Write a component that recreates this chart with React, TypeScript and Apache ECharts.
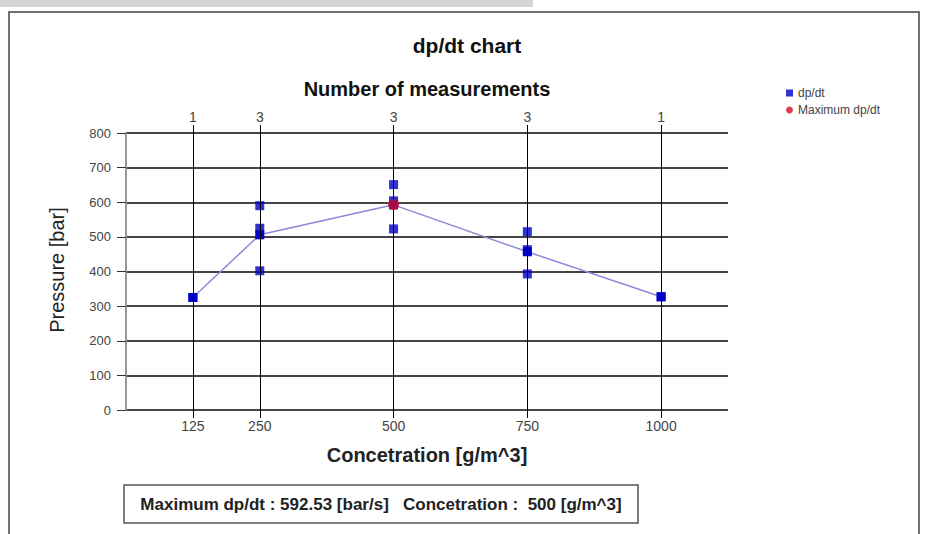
import React, { useEffect, useRef } from "react";
import * as echarts from "echarts";

const concentrations = [125, 250, 500, 750, 1000];
const measurementCounts = [1, 3, 3, 3, 1];
const measurements: [number, number][] = [
  [125, 325],
  [250, 590],
  [250, 525],
  [250, 402],
  [500, 651],
  [500, 604],
  [500, 523],
  [750, 515],
  [750, 463],
  [750, 393],
  [1000, 327],
];
const meanValues = [325, 506, 592.53, 457, 327];
const maxPoint: [number, number] = [500, 592.53];
const yTicks = [0, 100, 200, 300, 400, 500, 600, 700, 800];

const FONT = "'Liberation Sans', Arial, sans-serif";

export default function App() {
  const ref = useRef<HTMLDivElement>(null);
  useEffect(() => {
    document.body.style.margin = "0";
    const chart = echarts.init(ref.current!, null, { renderer: "svg" });
    const countMap: Record<number, number> = {};
    concentrations.forEach((c, i) => (countMap[c] = measurementCounts[i]));
    const option: any = {
      animation: false,
      backgroundColor: "#ffffff",
      grid: { left: 126, right: 198, top: 133, bottom: 124, containLabel: false },
      legend: {
        orient: "vertical",
        left: 781,
        top: 82,
        itemWidth: 7,
        itemHeight: 7,
        itemGap: 5,
        textStyle: { fontSize: 12, color: "#444", fontFamily: FONT },
        data: [
          { name: "dp/dt", icon: "rect" },
          { name: "Maximum dp/dt", icon: "circle" },
        ],
      },
      xAxis: [
        {
          type: "value",
          position: "bottom",
          min: 0,
          max: 1125,
          axisLine: { show: false },
          axisTick: {
            show: true,
            customValues: concentrations,
            length: 8,
            lineStyle: { color: "#000", width: 1 },
          },
          axisLabel: {
            customValues: concentrations,
            color: "#444",
            fontSize: 14,
            fontFamily: FONT,
            margin: 9,
            formatter: (v: number) => String(v),
          },
          splitLine: { show: false },
        },
        {
          type: "value",
          position: "top",
          min: 0,
          max: 1125,
          axisLine: { show: false },
          axisTick: {
            show: true,
            customValues: concentrations,
            length: 8,
            lineStyle: { color: "#000", width: 1 },
          },
          axisLabel: {
            customValues: concentrations,
            color: "#444",
            fontSize: 14,
            fontFamily: FONT,
            margin: 9,
            formatter: (v: number) => String(countMap[v] ?? ""),
          },
          splitLine: { show: false },
        },
      ],
      yAxis: {
        type: "value",
        min: 0,
        max: 800,
        interval: 100,
        axisLine: { show: true, lineStyle: { color: "#999", width: 2 } },
        axisTick: { show: true, length: 9, lineStyle: { color: "#333", width: 1 } },
        axisLabel: {
          color: "#444",
          fontSize: 13,
          fontFamily: FONT,
          margin: 15,
          customValues: yTicks,
        },
        splitLine: { show: true, lineStyle: { color: "#444", width: 2 } },
      },
      series: [
        {
          name: "grid",
          type: "line",
          data: [],
          silent: true,
          markLine: {
            silent: true,
            symbol: "none",
            label: { show: false },
            lineStyle: { color: "#000", width: 1, type: "solid" },
            data: concentrations.map((c) => ({ xAxis: c })),
          },
        },
        {
          name: "dp/dt",
          type: "scatter",
          symbol: "rect",
          symbolSize: 9,
          itemStyle: { color: "#0000c8" },
          data: measurements,
          z: 3,
        },
        {
          name: "dp/dt",
          type: "line",
          symbol: "rect",
          symbolSize: 9,
          showAllSymbol: true,
          lineStyle: { color: "#8a8ad8", width: 1.5 },
          itemStyle: { color: "#0000c8" },
          data: concentrations.map((c, i) => [c, meanValues[i]]),
          z: 4,
        },
        {
          name: "Maximum dp/dt",
          type: "scatter",
          symbol: "circle",
          symbolSize: 11,
          itemStyle: { color: "#d0102a" },
          data: [maxPoint],
          z: 5,
        },
      ],
      graphic: [
        { type: "rect", shape: { x: 0, y: 0, width: 533, height: 7 }, style: { fill: "#d6d6d6" } },
        {
          type: "rect",
          shape: { x: 9, y: 12, width: 910, height: 530 },
          style: { fill: "none", stroke: "#707070", lineWidth: 2 },
          silent: true,
        },
        {
          type: "text",
          x: 467,
          y: 45,
          style: {
            text: "dp/dt chart",
            font: `bold 21px ${FONT}`,
            fill: "#111",
            align: "center",
            verticalAlign: "middle",
          },
        },
        {
          type: "text",
          x: 427,
          y: 89,
          style: {
            text: "Number of measurements",
            font: `bold 20px ${FONT}`,
            fill: "#111",
            align: "center",
            verticalAlign: "middle",
          },
        },
        {
          type: "text",
          x: 427,
          y: 455,
          style: {
            text: "Concetration [g/m^3]",
            font: `bold 20px ${FONT}`,
            fill: "#222",
            align: "center",
            verticalAlign: "middle",
          },
        },
        {
          type: "text",
          x: 57,
          y: 270,
          rotation: Math.PI / 2,
          style: {
            text: "Pressure [bar]",
            font: `20px ${FONT}`,
            fill: "#222",
            align: "center",
            verticalAlign: "middle",
          },
        },
        {
          type: "rect",
          shape: { x: 124, y: 485, width: 514, height: 38 },
          style: { fill: "#fff", stroke: "#555", lineWidth: 1.5 },
        },
        {
          type: "text",
          x: 381,
          y: 504,
          style: {
            text: "Maximum dp/dt : 592.53 [bar/s]   Concetration :  500 [g/m^3]",
            font: `bold 17px ${FONT}`,
            fill: "#222",
            align: "center",
            verticalAlign: "middle",
          },
        },
      ],
    };
    chart.setOption(option);
    return () => chart.dispose();
  }, []);
  return <div ref={ref} style={{ width: 926, height: 534 }} />;
}
